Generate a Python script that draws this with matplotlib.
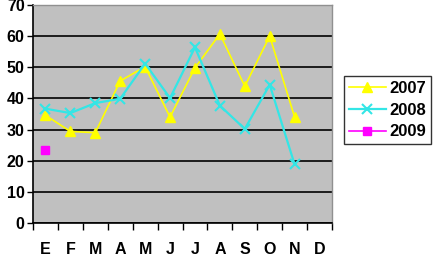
import numpy as np
import matplotlib

matplotlib.use("Agg")
import matplotlib.pyplot as plt  # noqa: E402

months = ["E", "F", "M", "A", "M", "J", "J", "A", "S", "O", "N", "D"]
values_2007 = [34.6, 29.4, 29.0, 45.6, 50.2, 34.0, 49.8, 60.7, 43.9, 60.0, 34.0]
values_2008 = [36.7, 35.3, 38.5, 39.9, 51.2, 40.1, 56.4, 37.7, 30.2, 44.4, 18.8]
values_2009 = [23.4]

plt.rcParams["font.family"] = ["Liberation Sans", "DejaVu Sans"]
plt.rcParams["font.weight"] = "bold"

fig = plt.figure(figsize=(4.33, 2.62), dpi=100)
ax = fig.add_axes([33 / 433, 1 - 223 / 262, 299 / 433, 218 / 262])
ax.set_facecolor("#C0C0C0")

x = np.arange(len(months))
ax.plot(x[:len(values_2007)], values_2007, color="#FFFF00", lw=1.2, marker="^",
        ms=7, mec="#FFFF00", label="2007", zorder=3)
ax.plot(x[:len(values_2008)], values_2008, color="#33E6E6", lw=1.6, marker="x",
        ms=7, mew=1.5, label="2008", zorder=3)
ax.plot(x[:len(values_2009)], values_2009, color="#FF00FF", lw=1.2, marker="s",
        ms=6, label="2009", zorder=3)

ax.set_xlim(-0.5, len(months) - 0.5)
ax.set_ylim(0, 70)
ax.set_yticks(np.arange(0, 71, 10))
ax.yaxis.grid(True, color="black", lw=1.2)
ax.set_axisbelow(True)

ax.set_xticks(np.arange(-0.5, len(months), 1.0))
ax.set_xticklabels([])
ax.set_xticks(x, minor=True)
ax.set_xticklabels(months, minor=True)
ax.tick_params(axis="x", which="major", direction="out", length=5, width=1, color="black")
ax.tick_params(axis="x", which="minor", length=0, pad=14, labelsize=11.5)
ax.tick_params(axis="y", direction="out", length=4, width=1, labelsize=11.5, pad=2)

for side in ("top", "right"):
    ax.spines[side].set_color("#909090")
    ax.spines[side].set_linewidth(1.0)
for side in ("left", "bottom"):
    ax.spines[side].set_color("black")
    ax.spines[side].set_linewidth(1.2)

leg = fig.legend(loc="upper left", bbox_to_anchor=(344 / 433, 1 - 76 / 262),
                 frameon=True, fancybox=False, fontsize=12, handlelength=2.2,
                 borderpad=0.3, labelspacing=0.4, handletextpad=0.2,
                 borderaxespad=0)
leg.get_frame().set_edgecolor("black")
leg.get_frame().set_linewidth(1.0)

fig.savefig("out.png", dpi=100)
